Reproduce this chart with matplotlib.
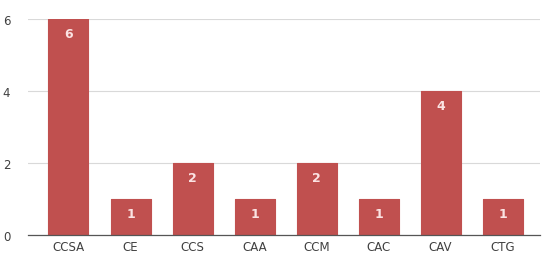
import matplotlib.pyplot as plt

categories = ["CCSA", "CE", "CCS", "CAA", "CCM", "CAC", "CAV", "CTG"]
counts = [6, 1, 2, 1, 2, 1, 4, 1]
yticks = [0, 2, 4, 6]

BAR_COLOR = "#c0504f"
TEXT_COLOR = "#404040"

fig = plt.figure(figsize=(5.42, 2.55), dpi=100)
ax = fig.add_axes([0.052, 0.075, 0.944, 0.847])

x = range(len(categories))
bars = ax.bar(x, counts, width=0.645, color=BAR_COLOR, edgecolor=BAR_COLOR,
              linewidth=0.8, joinstyle="round", zorder=3)

for xi, v in zip(x, counts):
    ax.text(xi, v - 0.4, str(v), ha="center", va="center", color="#fbe3e3",
            fontsize=9, fontweight="semibold", zorder=4)

ax.set_xlim(-0.65, len(categories) - 0.4)
ax.set_ylim(0, 6)
ax.set_yticks(yticks)
ax.set_xticks(list(x))
ax.set_xticklabels(categories)
ax.yaxis.grid(True, color="#d9d9d9", linewidth=0.8, zorder=0)
ax.set_axisbelow(True)

for s in ["top", "right", "left"]:
    ax.spines[s].set_visible(False)
ax.spines["bottom"].set_color("#555555")
ax.spines["bottom"].set_linewidth(0.9)
ax.spines["bottom"].set_zorder(5)

ax.tick_params(axis="both", length=0, labelsize=8.5, labelcolor=TEXT_COLOR)
ax.tick_params(axis="y", pad=13)
ax.tick_params(axis="x", pad=4)
for lbl in ax.get_xticklabels() + ax.get_yticklabels():
    lbl.set_fontweight("medium")

fig.savefig("out.png", dpi=100)
